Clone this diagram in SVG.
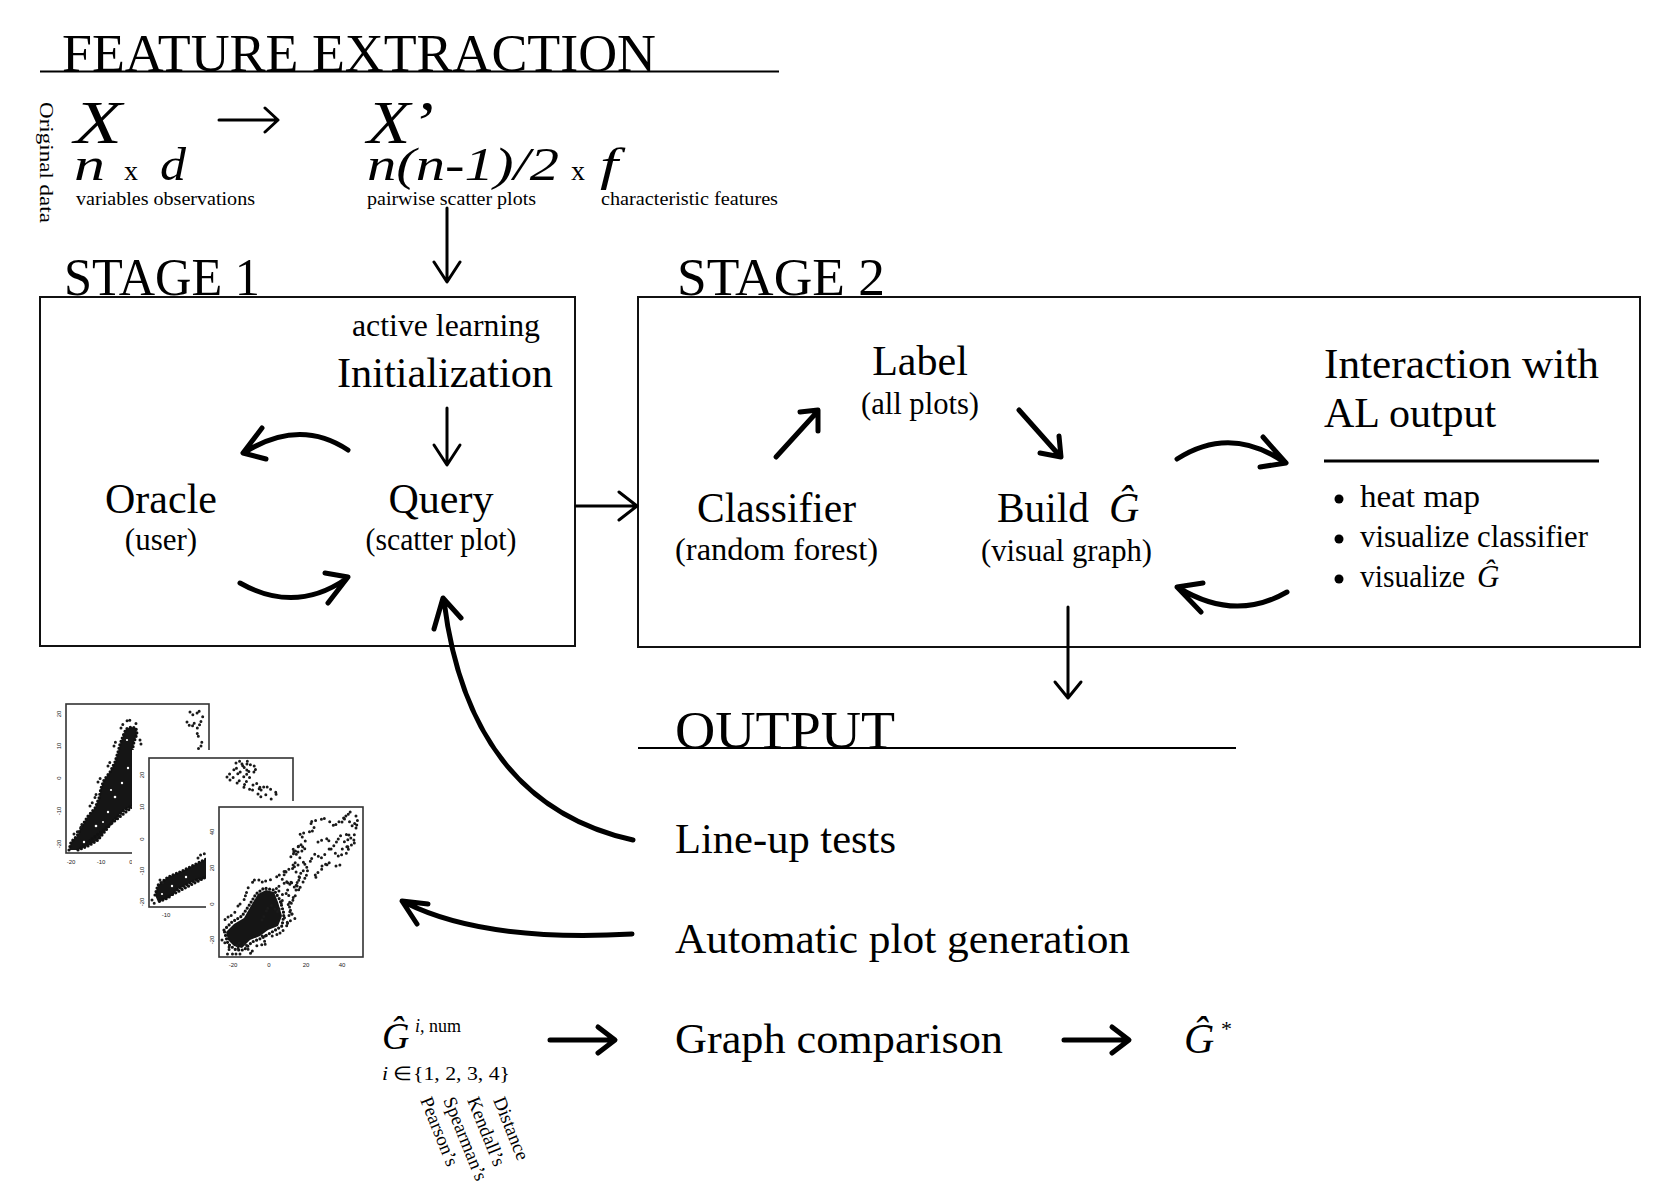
<svg xmlns="http://www.w3.org/2000/svg" width="1673" height="1198" viewBox="0 0 1673 1198">
<defs>
<style>
.t{font-family:"Liberation Serif","Times New Roman",serif;fill:#000}
.h{font-size:52px}
.m{font-size:42px}
.s{font-size:31px}
.it{font-style:italic}
.ln{stroke:#000;fill:none;stroke-width:3;stroke-linecap:round;stroke-linejoin:round}
.k{stroke-width:5}
.rule{stroke:#000;stroke-width:2;fill:none}
.box{fill:none;stroke:#111;stroke-width:2}
.fr{fill:#fff;stroke:#333;stroke-width:1.6}
.dt{fill:none;stroke:#111;stroke-width:3.2;stroke-linecap:round;stroke-linejoin:round;stroke-dasharray:0 3.6}
.d2{fill:none;stroke:#1a1a1a;stroke-width:3;stroke-linecap:round;stroke-linejoin:round;stroke-dasharray:0 4 0 6 0 3 0 7 0 5 0 3.5}
.band{fill:#151515;stroke:none}
.sp{fill:#fff}
.tk{font-family:"Liberation Sans",Arial,sans-serif;font-size:6px;fill:#222;text-anchor:middle}
</style>
</defs>

<!-- FEATURE EXTRACTION -->
<g id="feature-extraction">
<text class="t h" x="62" y="71" textLength="594" lengthAdjust="spacingAndGlyphs">FEATURE EXTRACTION</text>
<path class="rule" d="M40,71.5 H779"/>
<text class="t" font-size="18" x="40" y="102" transform="rotate(90 40 102)" textLength="121" lengthAdjust="spacingAndGlyphs">Original data</text>
<text class="t it" font-size="62" x="74" y="143" textLength="48" lengthAdjust="spacingAndGlyphs">X</text>
<text class="t it" font-size="62" x="367" y="143" textLength="67" lengthAdjust="spacingAndGlyphs">X’</text>
<text class="t it" font-size="46" x="74" y="180" textLength="31" lengthAdjust="spacingAndGlyphs">n</text>
<text class="t" font-size="28" x="124" y="180">x</text>
<text class="t it" font-size="46" x="160" y="180" textLength="26" lengthAdjust="spacingAndGlyphs">d</text>
<text class="t it" font-size="46" x="367" y="180" textLength="192" lengthAdjust="spacingAndGlyphs">n(n-1)/2</text>
<text class="t" font-size="28" x="571" y="180">x</text>
<text class="t it" font-size="46" x="600" y="180" textLength="18" lengthAdjust="spacingAndGlyphs">f</text>
<text class="t" font-size="19" x="76" y="205" textLength="179" lengthAdjust="spacingAndGlyphs">variables  observations</text>
<text class="t" font-size="19" x="367" y="205" textLength="169" lengthAdjust="spacingAndGlyphs">pairwise scatter plots</text>
<text class="t" font-size="19" x="601" y="205" textLength="177" lengthAdjust="spacingAndGlyphs">characteristic features</text>
</g>

<!-- STAGE 1 -->
<g id="stage1">
<rect class="box" x="40" y="297" width="535" height="349"/>
<text class="t h" x="64" y="295" textLength="196" lengthAdjust="spacingAndGlyphs">STAGE 1</text>
<text class="t" font-size="32" x="352" y="336" textLength="188" lengthAdjust="spacingAndGlyphs">active learning</text>
<text class="t m" x="337" y="387" textLength="216" lengthAdjust="spacingAndGlyphs">Initialization</text>
</g>
<g id="oracle">
<text class="t m" x="161" y="513" text-anchor="middle">Oracle</text>
<text class="t s" x="161" y="550" text-anchor="middle">(user)</text>
</g>
<g id="query">
<text class="t m" x="441" y="513" text-anchor="middle">Query</text>
<text class="t s" x="441" y="550" text-anchor="middle" textLength="151" lengthAdjust="spacingAndGlyphs">(scatter plot)</text>
</g>

<!-- STAGE 2 -->
<g id="stage2">
<rect class="box" x="638" y="297" width="1002" height="350"/>
<text class="t h" x="677" y="295" textLength="208" lengthAdjust="spacingAndGlyphs">STAGE 2</text>
</g>
<g id="label">
<text class="t m" x="920" y="375" text-anchor="middle">Label</text>
<text class="t s" x="920" y="414" text-anchor="middle" textLength="118" lengthAdjust="spacingAndGlyphs">(all plots)</text>
</g>
<g id="classifier">
<text class="t m" x="697" y="522" textLength="159" lengthAdjust="spacingAndGlyphs">Classifier</text>
<text class="t s" x="675" y="560" textLength="203" lengthAdjust="spacingAndGlyphs">(random forest)</text>
</g>
<g id="build">
<text class="t m" x="997" y="522"><tspan textLength="92" lengthAdjust="spacingAndGlyphs">Build</tspan><tspan x="1109" font-style="italic">Ĝ</tspan></text>
<text class="t s" x="981" y="561" textLength="171" lengthAdjust="spacingAndGlyphs">(visual graph)</text>
</g>
<g id="interaction">
<text class="t m" x="1324" y="378" textLength="275" lengthAdjust="spacingAndGlyphs">Interaction with</text>
<text class="t m" x="1324" y="427">AL output</text>
<path d="M1324,461 H1599" stroke="#000" stroke-width="3"/>
<circle cx="1339" cy="499" r="4.5"/>
<circle cx="1339" cy="539" r="4.5"/>
<circle cx="1339" cy="579" r="4.5"/>
<text class="t s" x="1360" y="507" textLength="120" lengthAdjust="spacingAndGlyphs">heat map</text>
<text class="t s" x="1360" y="547" textLength="228" lengthAdjust="spacingAndGlyphs">visualize classifier</text>
<text class="t s" x="1360" y="587"><tspan textLength="105" lengthAdjust="spacingAndGlyphs">visualize</tspan><tspan x="1477" font-style="italic">Ĝ</tspan></text>
</g>

<!-- OUTPUT -->
<g id="output">
<text class="t h" x="675" y="748" textLength="220" lengthAdjust="spacingAndGlyphs">OUTPUT</text>
<path class="rule" d="M638,748 H1236"/>
</g>
<g id="lineup"><text class="t m" x="675" y="853" textLength="221" lengthAdjust="spacingAndGlyphs">Line-up tests</text></g>
<g id="autoplot"><text class="t m" x="675" y="953" textLength="455" lengthAdjust="spacingAndGlyphs">Automatic plot generation</text></g>
<g id="graphcomp"><text class="t m" x="675" y="1053" textLength="328" lengthAdjust="spacingAndGlyphs">Graph comparison</text></g>
<g id="gstar">
<text class="t m" x="1184" y="1053"><tspan font-style="italic">Ĝ</tspan><tspan x="1221" y="1036" font-size="22">*</tspan></text>
</g>
<g id="ginum">
<text class="t" font-size="38" x="382" y="1049"><tspan font-style="italic">Ĝ</tspan><tspan x="415" y="1032" font-size="18" font-style="italic">i,</tspan><tspan font-size="18"> num</tspan></text>
<text class="t" font-size="19" x="382" y="1080" textLength="128" lengthAdjust="spacingAndGlyphs"><tspan font-style="italic">i</tspan> ∈{1, 2, 3, 4}</text>
<text class="t" font-size="19" x="420" y="1100" transform="rotate(68 420 1100)">Pearson’s</text>
<text class="t" font-size="19" x="443" y="1100" transform="rotate(68 443 1100)">Spearman’s</text>
<text class="t" font-size="19" x="467" y="1100" transform="rotate(68 467 1100)">Kendall’s</text>
<text class="t" font-size="19" x="493" y="1100" transform="rotate(68 493 1100)">Distance</text>
</g>

<!-- scatter plots -->
<g id="plots">
<g id="plot1">
<rect class="fr" x="66" y="704" width="143" height="149"/>
<text class="tk" x="61" y="714" transform="rotate(-90 61 714)">20</text>
<text class="tk" x="61" y="746" transform="rotate(-90 61 746)">10</text>
<text class="tk" x="61" y="778" transform="rotate(-90 61 778)">0</text>
<text class="tk" x="61" y="811" transform="rotate(-90 61 811)">-10</text>
<text class="tk" x="61" y="844" transform="rotate(-90 61 844)">-20</text>
<text class="tk" x="71" y="864">-20</text>
<text class="tk" x="101" y="864">-10</text>
<text class="tk" x="131" y="864">0</text>
<path class="band" d="M69,850 L71,842 L77,836 L82,826 L88,816 L95,808 L99,798 L101,788 L104,780 L110,772 L115,762 L118,752 L120,744 L123,736 L126,729 L131,727 L136,728 L137,734 L134,742 L132,752 L138,760 L146,772 L146,798 L136,804 L124,810 L114,820 L106,830 L98,840 L88,846 L78,850 Z"/>
<path class="dt" d="M69,850 L71,842 L77,836 L82,826 L88,816 L95,808 L99,798 L101,788 L104,780 L110,772 L115,762 L118,752 L120,744 L123,736 L126,729 L131,727 L136,728 L137,734 L134,742 L132,752 L138,760 M136,804 L124,810 L114,820 L106,830 L98,840 L88,846 L78,850 Z"/>
<path class="d2" d="M74,834 L80,830 L84,818 M90,806 L94,800 L97,792 M98,782 L103,774 M108,766 L112,758 M114,746 L117,738 M121,728 L124,722 L129,720 L134,722 L139,726 M140,740 L142,748"/>
<circle class="sp" cx="96" cy="826" r="1.3"/><circle class="sp" cx="108" cy="812" r="1.2"/><circle class="sp" cx="115" cy="797" r="1.3"/>
<circle class="sp" cx="122" cy="783" r="1.2"/><circle class="sp" cx="111" cy="790" r="1.1"/><circle class="sp" cx="128" cy="768" r="1.2"/>
<circle class="sp" cx="84" cy="842" r="1.2"/><circle class="sp" cx="127" cy="740" r="1.1"/><circle class="sp" cx="103" cy="822" r="1"/>
<path class="d2" d="M190,712 L194,716 L199,711 L203,716 L200,724 L196,730 L199,738 L203,744 L197,750 M187,722 L191,728 L195,722"/>
</g>
<g id="plot2">
<rect x="132" y="750" width="164" height="172" fill="#fff"/>
<rect class="fr" x="149" y="758" width="144" height="149"/>
<text class="tk" x="144" y="775" transform="rotate(-90 144 775)">20</text>
<text class="tk" x="144" y="807" transform="rotate(-90 144 807)">10</text>
<text class="tk" x="144" y="839" transform="rotate(-90 144 839)">0</text>
<text class="tk" x="144" y="871" transform="rotate(-90 144 871)">-10</text>
<text class="tk" x="144" y="902" transform="rotate(-90 144 902)">-20</text>
<text class="tk" x="166" y="917">-10</text>
<path class="d2" d="M227,777 L232,771 L237,768 L242,764 L247,764 L252,765 L257,767 L254,772 L250,777 L246,782 L243,787 L248,789 L253,790 L257,790 L262,787 L267,787 L272,790 L277,793 L274,797 L270,800"/>
<path class="d2" d="M230,780 L235,776 L240,772 L245,770 L250,770 L246,775 L240,780 L236,784 M253,785 L258,783 L262,792 L266,795 L270,795 M236,763 L240,761 L244,768 L248,760 M258,794 L262,798"/>
<path class="band" d="M155,895 L158,885 L168,877 L182,871 L196,864 L206,859 L210,858 L210,875 L194,881 L178,889 L168,898 L158,902 Z"/>
<path class="dt" d="M155,895 L158,885 L168,877 L182,871 L196,864 L206,859 M210,875 L194,881 L178,889 L168,898 L158,902 Z"/>
<path class="d2" d="M198,858 L203,852 L206,856 M160,880 L164,884 M152,900 L156,906"/>
<circle class="sp" cx="172" cy="886" r="1.2"/><circle class="sp" cx="186" cy="877" r="1.2"/><circle class="sp" cx="162" cy="894" r="1.1"/>
</g>
<g id="plot3">
<rect x="206" y="801" width="160" height="171" fill="#fff"/>
<rect class="fr" x="219" y="807" width="144" height="150"/>
<text class="tk" x="214" y="832" transform="rotate(-90 214 832)">40</text>
<text class="tk" x="214" y="868" transform="rotate(-90 214 868)">20</text>
<text class="tk" x="214" y="904" transform="rotate(-90 214 904)">0</text>
<text class="tk" x="214" y="940" transform="rotate(-90 214 940)">-20</text>
<text class="tk" x="233" y="967">-20</text>
<text class="tk" x="269" y="967">0</text>
<text class="tk" x="306" y="967">20</text>
<text class="tk" x="342" y="967">40</text>
<path class="band" d="M226,932 L234,924 L244,918 L252,904 L258,894 L266,890 L274,892 L278,902 L282,916 L278,926 L268,930 L260,936 L250,940 L242,948 L234,946 L228,940 Z"/>
<path class="dt" d="M224,930 L232,922 L242,916 L250,904 L256,894 L264,888 L274,890 L280,900 L284,914 L282,926 L272,932 L262,938 L252,942 L244,950 L236,950 L228,944 Z"/>
<path class="d2" d="M222,940 L230,948 L226,954 L240,954 L236,942 L246,944 L250,954 L256,946 L266,944 L262,936 L274,936 L282,932 L288,924 L284,918 L292,914 L288,904 L294,898 L286,894 L290,884 L282,880 L286,870 L278,876 L270,880 L262,882 L256,878 L248,888 L244,900 L238,906 L234,914 L226,918 L222,924"/>
<path class="d2" d="M262,920 L270,904 L278,912 L284,896 L276,888 L290,880 L296,890 L300,876 L292,868 L304,862 L308,872 L302,884 L294,898 L288,910 L296,918 L284,924 M298,852 L306,850 L300,844 L292,856 L286,860"/>
<path class="d2" d="M286,872 L300,858 L292,850 L306,842 L300,834 L316,830 L310,822 L326,818 L334,826 L346,816 L352,826 L358,820 L354,836 L344,842 L350,852 L338,856 L330,848 L322,858 L314,854 L308,866 L300,874 L296,886 L288,880"/>
<path class="d2" d="M318,842 L326,838 L334,846 L340,836 L348,834 L356,842 L350,846 L340,850 M322,866 L330,862 L314,876 L320,880 M336,866 L344,864 M342,822 L350,812 L356,816"/>
</g>
</g>

<!-- connectors -->
<g id="connectors">
<path class="ln" d="M219,120 H277 M265,108 L278,120 L265,132"/>
<path class="ln" d="M447,208 V281 M434,262 L447,282 L460,262"/>
<path class="ln" d="M447,408 V464 M434,445 L447,465 L460,445"/>
<path class="ln k" d="M348,450 Q300,418 245,452 M262,428 L243,453 L266,459"/>
<path class="ln k" d="M240,583 Q295,614 346,579 M325,573 L348,577 L328,603"/>
<path class="ln" stroke-width="4" d="M576,506 H636 M619,492 L637,506 L619,520"/>
<path class="ln k" d="M776,457 L817,412 M800,412 L818,410 L818,431"/>
<path class="ln k" d="M1019,410 L1059,455 M1040,453 L1061,457 L1059,436"/>
<path class="ln k" d="M1177,459 Q1230,425 1284,462 M1263,437 L1286,463 L1260,467"/>
<path class="ln k" d="M1287,592 Q1235,622 1179,588 M1203,583 L1177,587 L1201,612"/>
<path class="ln" stroke-width="4" d="M1068,607 V697 M1055,682 L1068,698 L1081,682"/>
<path class="ln k" d="M633,840 C520,815 460,730 444,601 M434,629 L443,598 L461,618"/>
<path class="ln k" d="M632,934 C560,938 470,935 406,903 M428,904 L402,901 L417,924"/>
<path class="ln k" d="M550,1040 H613 M598,1027 L615,1040 L598,1053"/>
<path class="ln k" d="M1064,1040 H1127 M1112,1027 L1129,1040 L1112,1053"/>
</g>
</svg>
